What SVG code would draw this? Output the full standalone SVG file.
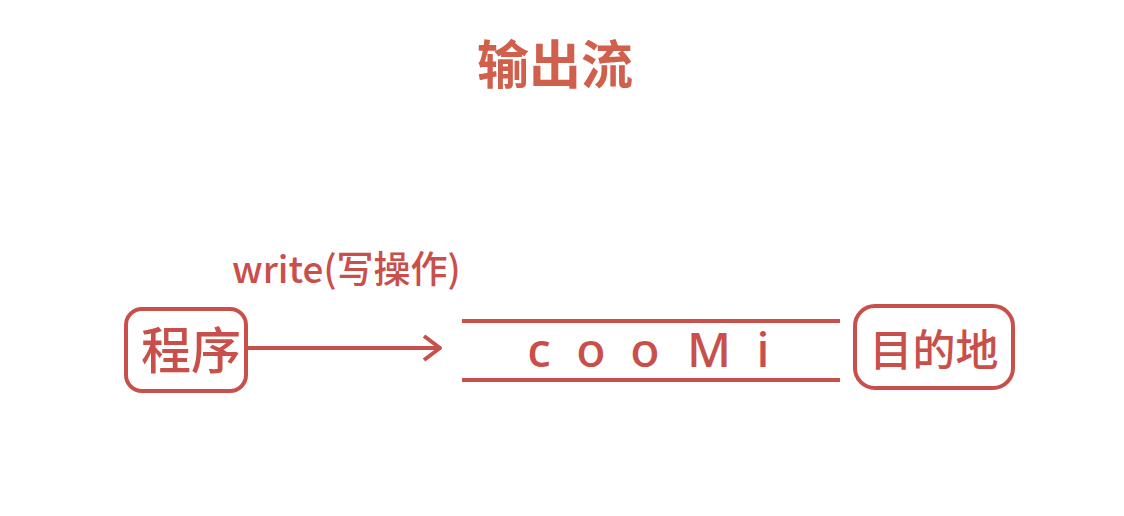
<svg xmlns="http://www.w3.org/2000/svg" width="1124" height="516" viewBox="0 0 1124 516">
<style>
.t{fill:#c9504a;font-family:"Noto Sans CJK SC","Liberation Sans",sans-serif;font-weight:500}
.l{fill:#c9504a;font-family:"Noto Sans","Open Sans",sans-serif;font-weight:500;font-size:48px}
.box{fill:none;stroke:#c9504a;stroke-width:4}
.ln{stroke:#c9504a;stroke-width:4;fill:none}
</style>
<rect width="1124" height="516" fill="#ffffff"/>
<text class="t" x="555" y="84" font-size="52" font-weight="bold" text-anchor="middle" style="fill:#d05f4c;font-weight:bold">输出流</text>
<g id="program">
<rect class="box" x="126" y="309" width="120" height="82" rx="16"/>
<text class="t" x="191" y="369" font-size="50" text-anchor="middle">程序</text>
</g>
<g id="stream">
<line class="ln" x1="462" y1="321" x2="840" y2="321"/>
<line class="ln" x1="462" y1="380" x2="840" y2="380"/>
<text class="l" y="367" text-anchor="middle"><tspan x="539">c</tspan><tspan x="591">o</tspan><tspan x="645">o</tspan><tspan x="709">M</tspan><tspan x="763">i</tspan></text>
</g>
<g id="dest">
<rect class="box" x="855" y="306" width="158" height="82" rx="20"/>
<text class="t" x="934" y="366" font-size="43" text-anchor="middle">目的地</text>
</g>
<g id="connectors">
<line class="ln" x1="246" y1="348" x2="440" y2="348"/>
<polyline class="ln" points="424,336 440,348 424,360" stroke-linejoin="round"/>
<text class="t" x="232" y="283" font-size="37">write(写操作)</text>
</g>
</svg>
